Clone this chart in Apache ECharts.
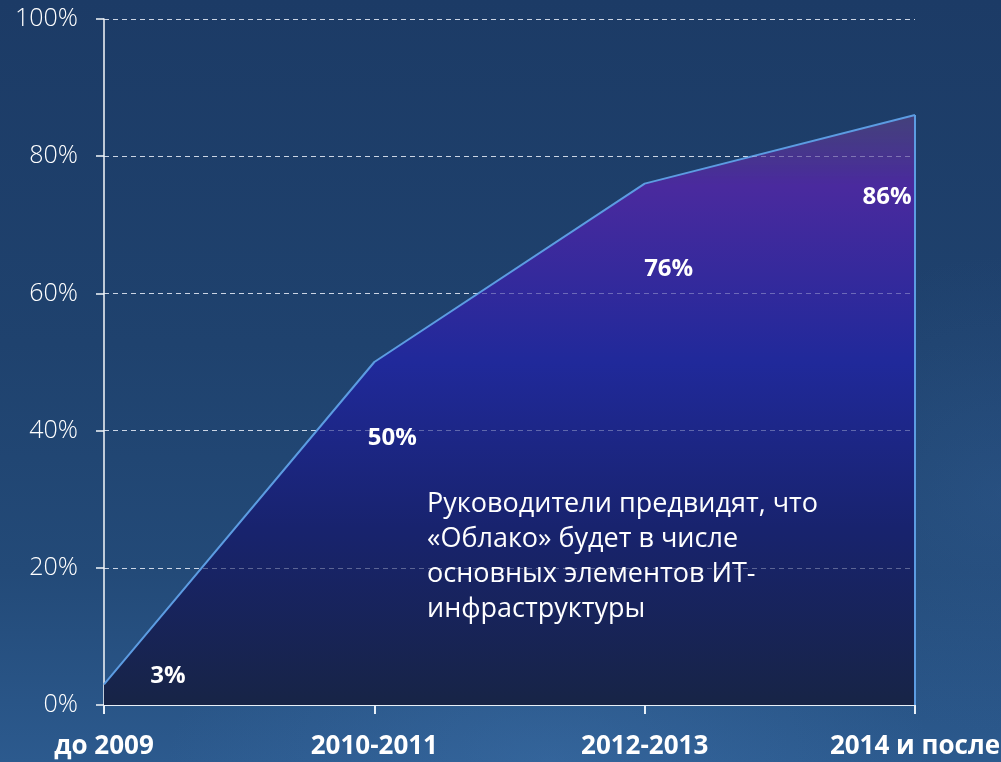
<!DOCTYPE html>
<html>
<head>
<meta charset="utf-8">
<script src="https://cdn.jsdelivr.net/npm/echarts@6/dist/echarts.min.js"></script>
<style>
html,body{margin:0;padding:0;width:1001px;height:762px;overflow:hidden;}
body{background:
  radial-gradient(ellipse 55% 35% at 55% 100%, rgba(70,125,185,0.30), rgba(70,125,185,0) 70%),
  radial-gradient(ellipse 35% 45% at 100% 65%, rgba(60,110,170,0.22), rgba(60,110,170,0) 70%),
  linear-gradient(180deg,#1c3b66 0%,#1f426e 45%,#234a78 75%,#2c5a8e 100%);}
#c{width:1001px;height:762px;}
</style>
</head>
<body>
<div id="c"></div>
<script>
const categories = ['до 2009', '2010-2011', '2012-2013', '2014 и после'];
const values = [3, 50, 76, 86];
const yTicks = [0, 20, 40, 60, 80, 100];
const noteLines = ['Руководители предвидят, что', '«Облако» будет в числе', 'основных элементов ИТ-', 'инфраструктуры'];
const labelOffsets = [[64, -8], [18, 76], [24, 86], [-28, 82]];

const last = categories.length - 1;
const chart = echarts.init(document.getElementById('c'));
chart.setOption({
  backgroundColor: 'transparent',
  animation: false,
  grid: {left: 104, right: 86, top: 19, bottom: 57, containLabel: false, outerBoundsMode: 'none'},
  xAxis: {
    type: 'category',
    data: categories,
    boundaryGap: false,
    axisLine: {lineStyle: {color: '#e8f0f8', width: 2}},
    axisTick: {show: true, length: 9, lineStyle: {color: '#e8f0f8', width: 2}},
    axisLabel: {color: '#ffffff', fontFamily: 'Open Sans', fontWeight: 'bold', fontSize: 26, margin: 29,
      hideOverlap: false, interval: 0},
    splitLine: {show: false}
  },
  yAxis: {
    type: 'value', min: 0, max: 100, interval: 20,
    axisLine: {show: true, lineStyle: {color: '#f4f7fa', width: 1.5}},
    axisTick: {show: true, length: 8, lineStyle: {color: '#f4f7fa', width: 1.5}},
    axisLabel: {color: '#ffffff', fontFamily: 'Open Sans', fontWeight: 300, fontSize: 25, margin: 26,
      formatter: v => yTicks.indexOf(v) >= 0 ? v + '%' : ''},
    splitLine: {show: true, lineStyle: {color: 'rgba(225,232,242,0.85)', type: [5, 4], width: 1.2}}
  },
  series: [{
    type: 'line',
    data: values.map((v, i) => ({value: v, label: {offset: labelOffsets[i]}})),
    symbol: 'circle', symbolSize: 0.1, showSymbol: true,
    itemStyle: {color: 'rgba(0,0,0,0)'},
    lineStyle: {color: '#5c9ce2', width: 2},
    areaStyle: {
      opacity: 1,
      color: {type: 'linear', x: 0, y: 0, x2: 0, y2: 1, colorStops: [
        {offset: 0, color: 'rgba(72,66,125,0.9)'},
        {offset: 0.12, color: '#4a2a9e'},
        {offset: 0.42, color: '#20299a'},
        {offset: 0.7, color: '#18236e'},
        {offset: 1, color: '#172446'}
      ]}
    },
    label: {show: true, position: 'inside', color: '#ffffff', fontFamily: 'Open Sans', fontWeight: 'bold',
      fontSize: 24, formatter: p => p.value + '%'},
    markLine: {
      silent: true, symbol: 'none', label: {show: false},
      lineStyle: {color: 'rgba(220,225,240,0.35)', type: [5, 4], width: 1.2},
      data: yTicks.filter(v => v > 0).map(v => ({yAxis: v}))
        .concat([[{coord: [last, 0], lineStyle: {color: '#5c9ce2', type: 'solid', width: 2}},
                  {coord: [last, values[last]]}]])
    },
    z: 1
  }],
  graphic: noteLines.map((t, i) => ({
    type: 'text', left: 427, top: 491 + i * 35, z: 10, silent: true,
    style: {text: t, fill: '#ffffff', font: '27px "Open Sans"'}
  }))
});
</script>
</body>
</html>
